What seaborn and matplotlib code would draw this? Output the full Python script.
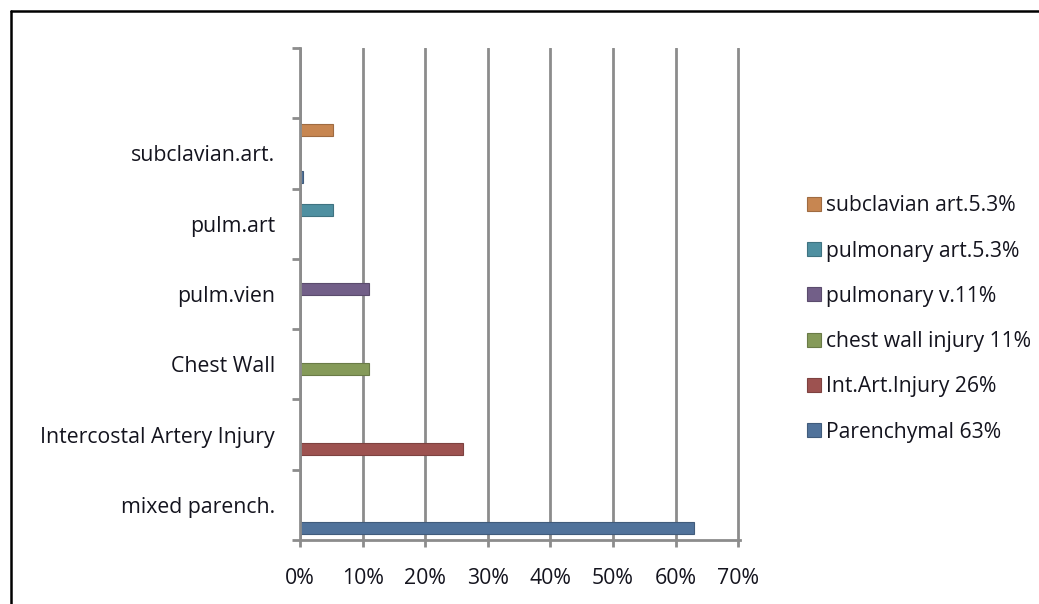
import matplotlib
matplotlib.use("Agg")
import matplotlib.pyplot as plt
import matplotlib.lines as mlines
import seaborn as sns
import pandas as pd
import numpy as np

# ---- data ----
categories = ["", "subclavian.art.", "pulm.art", "pulm.vien", "Chest Wall",
              "Intercostal Artery Injury", "mixed parench."]
series = ["subclavian art.5.3%", "pulmonary art.5.3%", "pulmonary v.11%",
          "chest wall injury 11%", "Int.Art.Injury 26%", "Parenchymal 63%"]
# value of each series in each category (rows: categories, cols: series)
subclavian_vals   = [0, 5.3, 0, 0, 0, 0, 0]
pulm_art_vals     = [0, 0, 5.3, 0, 0, 0, 0]
pulm_v_vals       = [0, 0, 0, 11, 0, 0, 0]
chest_wall_vals   = [0, 0, 0, 0, 11, 0, 0]
int_art_vals      = [0, 0, 0, 0, 0, 26, 0]
parenchymal_vals  = [0, 0.4, 0, 0, 0, 0, 63]
x_ticks = [0, 10, 20, 30, 40, 50, 60, 70]
x_tick_labels = ["0%", "10%", "20%", "30%", "40%", "50%", "60%", "70%"]

colors = ["#DB843D", "#4198AF", "#71588F", "#89A54E", "#AA4643", "#4572A7"]

rows = []
for s, vals in zip(series, [subclavian_vals, pulm_art_vals, pulm_v_vals,
                            chest_wall_vals, int_art_vals, parenchymal_vals]):
    for c, v in zip(categories, vals):
        rows.append({"category": c, "series": s, "value": v})
df = pd.DataFrame(rows)

sns.set_theme(style="white")
plt.rcParams["font.family"] = ["Open Sans", "DejaVu Sans"]
txt = "#14141e"
FS = 15.3
LFS = 15.2

W, H = 1039, 604
fig = plt.figure(figsize=(W / 100, H / 100), dpi=100)
ax = fig.add_axes([300 / W, (H - 540) / H, (740 - 300) / W, (540 - 48) / H])

sns.barplot(data=df, x="value", y="category", hue="series",
            order=categories, hue_order=series, palette=colors,
            orient="h", width=0.8, dodge=True, ax=ax, legend=True,
            edgecolor=None, linewidth=0)

bar_h = 0.17
for p in ax.patches:
    fc = p.get_facecolor()
    cy = p.get_y() + p.get_height() / 2
    p.set_height(bar_h)
    p.set_y(cy - bar_h / 2)
    p.set_edgecolor(tuple(max(0, ch * 0.8) for ch in fc[:3]))
    p.set_linewidth(0.8)

ax.set_xlim(0, 70.3)
ax.set_ylim(6.5, -0.5)
ax.set_xticks(x_ticks)
ax.set_xticklabels(x_tick_labels, fontsize=FS, color=txt)
ax.set_yticks(range(len(categories)))
ax.set_yticklabels(categories, fontsize=FS, color=txt)
ax.set_yticks(np.arange(-0.5, len(categories), 1.0), minor=True)
ax.tick_params(axis="y", which="major", length=0, pad=18)
ax.tick_params(axis="y", which="minor", length=6, width=2, color="#8c8c8c",
               direction="out", left=True)
ax.tick_params(axis="x", which="major", length=5, width=2, color="#8c8c8c",
               direction="out", bottom=True, pad=15)
ax.set_xlabel("")
ax.set_ylabel("")

ax.grid(axis="x", color="#8c8c8c", linewidth=2.0)
ax.grid(axis="y", visible=False)
ax.set_axisbelow(True)
for side in ["top", "right"]:
    ax.spines[side].set_visible(False)
for side in ["left", "bottom"]:
    ax.spines[side].set_color("#8c8c8c")
    ax.spines[side].set_linewidth(2.0)

handles, labels = ax.get_legend_handles_labels()
ax.legend_.remove()
leg = fig.legend(handles, labels, loc="center left",
                 bbox_to_anchor=(799 / W, (H - 319) / H),
                 frameon=False, fontsize=LFS, labelcolor=txt,
                 handlelength=0.65, handleheight=0.65, handletextpad=0.25,
                 labelspacing=1.15, borderaxespad=0)

# outer border (top and left)
fig.add_artist(mlines.Line2D([11 / W, 11 / W], [0, 1 - 11 / H],
                             transform=fig.transFigure, color="black", lw=1.8))
fig.add_artist(mlines.Line2D([11 / W, 1], [1 - 11 / H, 1 - 11 / H],
                             transform=fig.transFigure, color="black", lw=1.8))

fig.savefig("out.png", dpi=100, facecolor="white")
